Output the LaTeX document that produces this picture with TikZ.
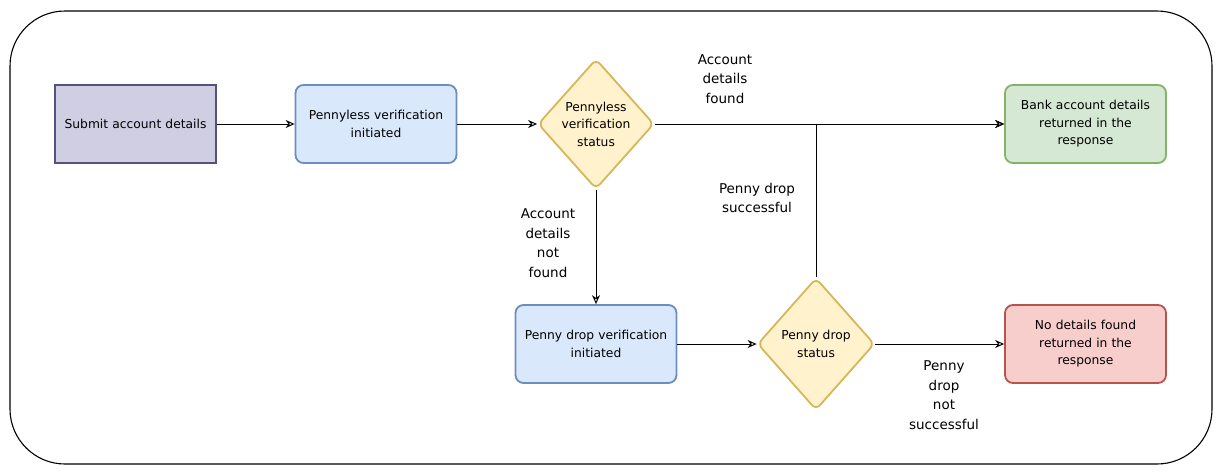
\documentclass[tikz,border=0pt]{standalone}
\usepackage{fontspec}
\setmainfont{DejaVu Sans}
\usetikzlibrary{shapes.geometric,arrows.meta}
\definecolor{subfill}{HTML}{D0CEE2}\definecolor{subdraw}{HTML}{56517E}
\definecolor{bluefill}{HTML}{DAE8FC}\definecolor{bluedraw}{HTML}{6C8EBF}
\definecolor{yelfill}{HTML}{FFF2CC}\definecolor{yeldraw}{HTML}{D6B656}
\definecolor{grnfill}{HTML}{D5E8D4}\definecolor{grndraw}{HTML}{82B366}
\definecolor{redfill}{HTML}{F8CECC}\definecolor{reddraw}{HTML}{B85450}
\tikzset{
  box/.style={draw, line width=1.8pt, minimum width=159pt, minimum height=78pt, inner sep=2pt,
    align=center, text width=157pt, font=\fontsize{12.3}{17.5}\selectfont},
  rbox/.style={box, rounded corners=8pt},
  dia/.style={diamond, draw=yeldraw, fill=yelfill, line width=1.8pt, rounded corners=6pt,
    inner sep=0pt, align=center, font=\fontsize{12.3}{17.5}\selectfont},
  conn/.style={draw, line width=1pt, -{Stealth[open,length=9pt,width=8pt]}},
  lbl/.style={align=center, font=\fontsize{13.5}{19.5}\selectfont},
}
\begin{document}
\begin{tikzpicture}[x=1pt,y=-1pt]
\useasboundingbox (0,0) rectangle (1222,474);
\draw[line width=1.1pt, rounded corners=55pt] (10,11) rectangle (1212,464);
\node[box, draw=subdraw, fill=subfill] (sub) at (135.5,124) {Submit account details};
\node[rbox, draw=bluedraw, fill=bluefill] (pvi) at (376,124) {Pennyless verification\\initiated};
\node[dia, minimum width=116pt, minimum height=130pt] (d1) at (596,124) {Pennyless\\verification\\status};
\node[rbox, draw=grndraw, fill=grnfill] (bank) at (1085.5,124) {Bank account details\\returned in the\\response};
\node[rbox, draw=bluedraw, fill=bluefill] (pdv) at (596,344) {Penny drop verification\\initiated};
\node[dia, minimum width=117pt, minimum height=132pt] (d2) at (816,344) {Penny drop\\status};
\node[rbox, draw=reddraw, fill=redfill] (nod) at (1085.5,344) {No details found\\returned in the\\response};
\draw[conn] (sub) -- (pvi);
\draw[conn] (pvi) -- (d1);
\draw[conn] (d1.east) -- (bank.west);
\draw[conn] (d1.south) -- (pdv.north);
\draw[conn] (pdv.east) -- (d2.west);
\draw[conn] (d2.north) |- (bank.west);
\draw[conn] (d2.east) -- (nod.west);
\node[lbl] (l1) at (725,79) {Account\\details\\found};
\node[lbl] (l2) at (757,198) {Penny drop\\successful};
\node[lbl] (l3) at (548,243) {Account\\details\\not\\found};
\node[lbl] (l4) at (944,395) {Penny\\drop\\not\\successful};
\end{tikzpicture}
\end{document}
